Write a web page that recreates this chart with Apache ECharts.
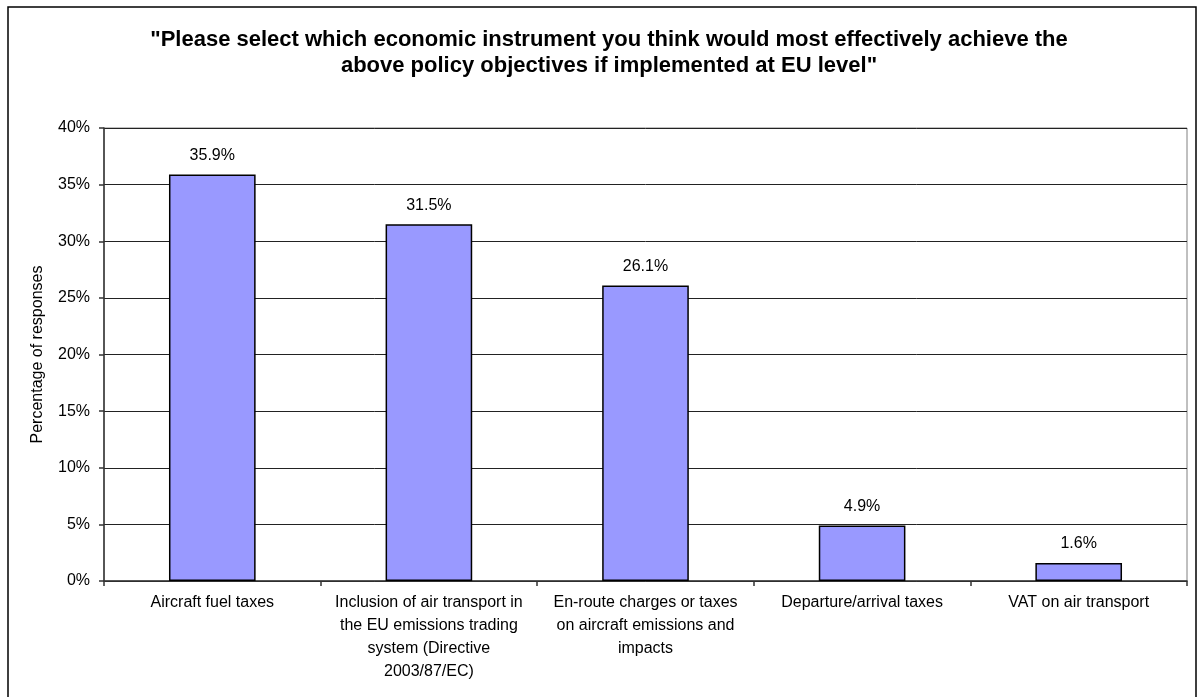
<!DOCTYPE html>
<html><head><meta charset="utf-8">
<script src="https://cdn.jsdelivr.net/npm/echarts@6/dist/echarts.min.js"></script>
<style>html,body{margin:0;padding:0;background:#fff}#c{width:1199px;height:697px}</style>
</head><body><div id="c"></div>
<script>
const titleText = '"Please select which economic instrument you think would most effectively achieve the\nabove policy objectives if implemented at EU level"';
const categories = [
  'Aircraft fuel taxes',
  'Inclusion of air transport in\nthe EU emissions trading\nsystem (Directive\n2003/87/EC)',
  'En-route charges or taxes\non aircraft emissions and\nimpacts',
  'Departure/arrival taxes',
  'VAT on air transport'
];
const values = [35.9, 31.5, 26.1, 4.9, 1.6];
const yTicks = [0, 5, 10, 15, 20, 25, 30, 35, 40];
const yAxisName = 'Percentage of responses';

const FONT = '"Liberation Sans", Arial, sans-serif';
const chart = echarts.init(document.getElementById('c'), null, {renderer: 'canvas'});
chart.setOption({
  animation: false,
  backgroundColor: '#fff',
  graphic: [{
    type: 'rect',
    shape: {x: 8, y: 7, width: 1188, height: 720},
    style: {fill: 'none', stroke: '#000', lineWidth: 1.5},
    silent: true, z: -1
  }],
  title: {
    text: titleText, left: 604, top: 22, textAlign: 'center',
    textStyle: {fontFamily: FONT, fontSize: 22, fontWeight: 'bold', color: '#000', lineHeight: 26}
  },
  grid: {left: 104, right: 12, top: 128, bottom: 116, show: true, borderColor: '#808080', borderWidth: 1, backgroundColor: 'transparent'},
  xAxis: {
    type: 'category', data: categories,
    axisLine: {lineStyle: {color: '#333', width: 1.5}},
    axisTick: {show: true, alignWithLabel: false, length: 5, lineStyle: {color: '#333', width: 1.5}},
    axisLabel: {fontFamily: FONT, fontSize: 16, color: '#000', lineHeight: 23, margin: 10, interval: 0}
  },
  yAxis: {
    type: 'value', min: 0, max: 40, interval: 5,
    name: yAxisName, nameLocation: 'middle', nameGap: 58, nameRotate: 90,
    nameTextStyle: {fontFamily: FONT, fontSize: 16, color: '#000'},
    axisLine: {show: true, lineStyle: {color: '#333', width: 1.5}},
    axisTick: {show: true, length: 5, lineStyle: {color: '#333', width: 1.5}},
    axisLabel: {fontFamily: FONT, fontSize: 16, color: '#000', margin: 14,
      formatter: v => yTicks.includes(v) ? v + '%' : ''},
    splitLine: {show: true, lineStyle: {color: '#222', width: 1}}
  },
  series: [{
    type: 'bar', data: values, barWidth: '40%',
    itemStyle: {color: '#9999FF', borderColor: '#000', borderWidth: 1.5},
    label: {show: true, position: 'top', distance: 11, fontFamily: FONT, fontSize: 16, color: '#000',
      formatter: p => p.value.toFixed(1) + '%'}
  }]
});
</script></body></html>
